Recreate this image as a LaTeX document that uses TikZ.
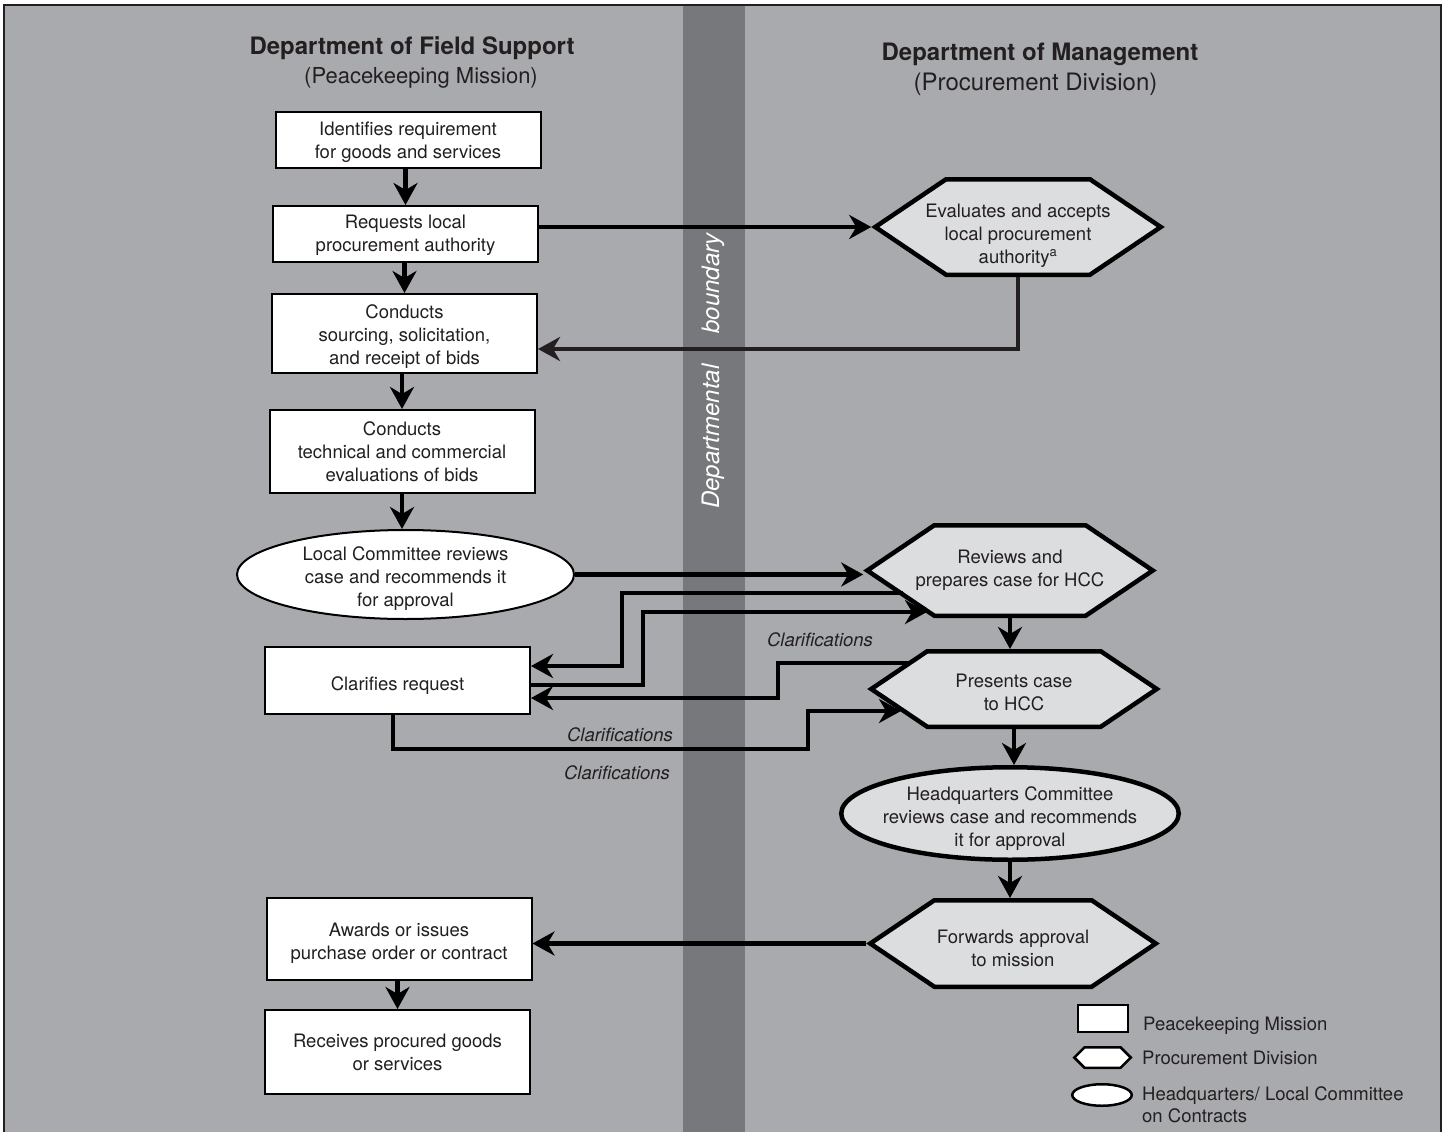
\documentclass[tikz,border=0pt]{standalone}
\usepackage{fontspec}
\setmainfont{TeX Gyre Heros}
\usetikzlibrary{arrows.meta,shapes.symbols,shapes.geometric,calc}
\definecolor{bggray}{RGB}{169,170,174}
\definecolor{bandgray}{RGB}{119,120,124}
\definecolor{hexfill}{RGB}{220,221,223}
\definecolor{ink}{RGB}{35,31,32}
\newcommand\DropText[1]{\rule{0pt}{#1}}
\begin{document}
\begin{tikzpicture}[x=1pt,y=-1pt,
  every node/.style={text=ink, font=\fontsize{18.5}{22.8}\selectfont},
  pbox/.style={draw=black, line width=2pt, fill=white, align=center, inner sep=0pt, minimum width=265pt},
  hexa/.style={shape=signal, signal to=east and west, signal pointer angle=68, draw=black, line width=4.5pt, fill=hexfill, align=center, inner xsep=-40pt, inner ysep=0pt, minimum width=285.5pt},
  lcell/.style={ellipse, draw=black, line width=2pt, fill=white, align=center, inner xsep=-20pt, inner ysep=-10pt},
  hqcell/.style={ellipse, draw=black, line width=4.5pt, fill=hexfill, align=center, inner xsep=-20pt, inner ysep=-10pt},
  arr/.style={draw=black, line width=4.5pt, -{Stealth[length=22pt,width=24pt,inset=7pt]}},
  clar/.style={font=\itshape\fontsize{18.5}{22.5}\selectfont},
  titlebf/.style={font=\bfseries\fontsize{24}{28}\selectfont, anchor=base},
  legtext/.style={inner sep=0pt}
]
\useasboundingbox (0,0) rectangle (1449,1132);
\begin{scope}
\clip (0,0) rectangle (1449,1132);
\fill[white] (0,0) rectangle (1449,1132);
\fill[bggray] (4,5) rectangle (1441,1140);
\fill[bandgray] (683,5) rectangle (745,1140);
\draw[ink, line width=1.2pt] (4,1140) -- (4,5) -- (1441,5) -- (1441,1140);
\end{scope}

% boundary label
\node[rotate=90, text=white, font=\itshape\fontsize{24}{28}\selectfont] (bd) at (713,371) {Departmental\hspace{31pt}boundary};

% titles
\node[titlebf] (t1) at (412,55) {Department of Field Support};
\node[font=\fontsize{22}{26}\selectfont, anchor=base] (t2) at (421,84) {(Peacekeeping Mission)};
\node[titlebf] (t3) at (1040,61) {Department of Management};
\node[font=\fontsize{24}{28}\selectfont, anchor=base] (t4) at (1035.5,91) {(Procurement Division)};

% left column
\node[pbox, minimum height=56pt] (r1) at (408,139.5) {\DropText{18.7pt}Identifies requirement\\for goods and services};
\node[pbox, minimum height=56pt] (r2) at (405.5,234) {\DropText{15.7pt}Requests local\\procurement authority};
\node[pbox, minimum height=79pt] (r3) at (404.5,333.5) {\DropText{19.7pt}Conducts\\sourcing, solicitation,\\and receipt of bids};
\node[pbox, minimum height=83pt] (r4) at (402,451.5) {Conducts\\technical and commercial\\evaluations of bids};
\node[lcell, minimum width=337pt, minimum height=89pt] (e5) at (405.5,574.5) {\DropText{21.7pt}Local Committee reviews\\case and recommends it\\for approval};
\node[pbox, minimum height=67pt] (c6) at (397.5,680.5) {\DropText{23.7pt}Clarifies request};
\node[pbox, minimum height=82pt] (r7) at (399,939) {\DropText{21.7pt}Awards or issues\\purchase order or contract};
\node[pbox, minimum height=84pt] (r8) at (397.5,1052) {Receives procured goods\\or services};

% right column
\node[hexa, minimum height=95.5pt] (h1) at (1018,227) {\DropText{30.7pt}Evaluates and accepts\\local procurement\\authority\textsuperscript{a}};
\node[hexa, minimum height=90.5pt] (h2) at (1010,570.5) {Reviews and\\prepares case for HCC};
\node[hexa, minimum height=75.5pt] (h3) at (1014,689) {\DropText{19.7pt}Presents case\\to HCC};
\node[hqcell, minimum width=337.5pt, minimum height=92.5pt] (hq) at (1010,813.5) {\DropText{23.7pt}Headquarters Committee\\reviews case and recommends\\it for approval};
\node[hexa, minimum height=86.5pt] (h4) at (1013,943.5) {\DropText{23.7pt}Forwards approval\\to mission};

% edge points on slanted hexagon sides
\coordinate (h2a) at ($(h2.center)+(-107.5,22.5)$);
\coordinate (h2b) at ($(h2.center)+(-83,41.5)$);
\coordinate (h3a) at ($(h3.center)+(-104,-26)$);
\coordinate (h3b) at ($(h3.center)+(-113,22)$);

% labels
\node[clar] (l1) at (820,640) {Clarifications};
\node[clar] (l2) at (620,735) {Clarifications};
\node[clar] (l3) at (617,773) {Clarifications};

% legend
\node[draw=black, line width=2pt, fill=white, minimum width=50pt, minimum height=27pt, inner sep=0pt] (lg1) at (1103,1018.5) {};
\node[shape=signal, signal to=east and west, signal pointer angle=90, draw=black, line width=2.5pt, fill=white, minimum width=56.5pt, minimum height=20.5pt, inner sep=0pt] (lg2) at (1102.5,1057.5) {};
\node[ellipse, draw=black, line width=2.5pt, fill=white, minimum width=59.5pt, minimum height=21.5pt, inner sep=0pt] (lg3) at (1102,1095) {};
\node[legtext, anchor=base west] (lt1) at (1143,1030) {Peacekeeping Mission};
\node[legtext, anchor=base west] (lt2) at (1142,1064) {Procurement Division};
\node[legtext, anchor=north west, align=left] (lt3) at (1142,1086) {Headquarters/ Local Committee\\on Contracts};

% connectors, left column
\draw[arr] (r1.south -| r2.north) -- (r2.north);
\draw[arr] (r2.south -| r3.north) -- (r3.north);
\draw[arr] (r3.south -| r4.north) -- (r4.north);
\draw[arr] (r4.south) -- (r4.south |- e5.north);
\draw[arr] (r7.south -| r8.north) -- (r8.north);

% cross connectors
\draw[arr] (r2.east |- h1.west) -- (h1.west);
\draw[arr, draw=ink] (h1.south) |- ($(r3.east)+(0,15.5)$);
\draw[arr] (e5.east) -- (e5.east -| h2.west);
\draw[arr] (h4.west) -- (h4.west -| r7.east);

% right column
\draw[arr] (h2.south) -- (h2.south |- h3.north);
\draw[arr] (h3.south) -- (h3.south |- hq.north);
\draw[arr] (hq.south) -- (hq.south |- h4.north);

% clarification loops
\draw[arr] (h2a) -- ++(-280.5,0) |- ($(c6.east)+(0,-14.5)$);
\draw[arr] ($(c6.east)+(0,4.5)$) -- (643,685) |- (h2b);
\draw[arr] (h3a) -- (778,663) |- ($(c6.east)+(0,17.5)$);
\draw[arr] ($(c6.south)+(-4.5,0)$) |- (808,749) |- (h3b);
\end{tikzpicture}
\end{document}
